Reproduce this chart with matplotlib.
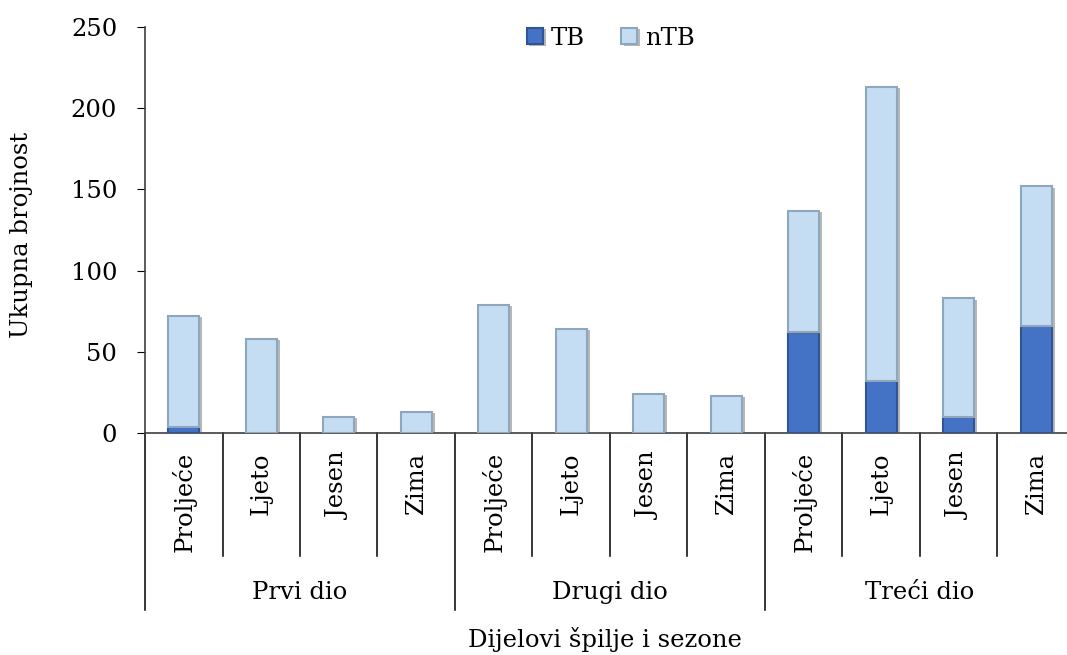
import matplotlib
matplotlib.use('Agg')
import matplotlib.pyplot as plt
import matplotlib.patheffects as pe
import numpy as np

# Données
groups = ['Prvi dio', 'Drugi dio', 'Treći dio']
seasons = ['Proljeće', 'Ljeto', 'Jesen', 'Zima']
tb = [4, 0, 0, 0, 0, 0, 0, 0, 62, 32, 10, 66]
total = [72, 58, 10, 13, 79, 64, 24, 23, 137, 213, 83, 152]
ntb = [t - b for t, b in zip(total, tb)]
yticks = [0, 50, 100, 150, 200, 250]

plt.rcParams['font.family'] = ['DejaVu Serif']
FS = 17.5

fig = plt.figure(figsize=(10.67, 6.55), dpi=100)
W, H = 1067, 655
ax = fig.add_axes([145 / W, 1 - 433 / H, 930 / W, 406 / H])

x = np.arange(len(total))
shadow = [pe.SimplePatchShadow(offset=(2, -1), shadow_rgbFace='#606060', alpha=0.45), pe.Normal()]
b1 = ax.bar(x, tb, width=0.4, color='#4472C4', edgecolor='#2F5597', linewidth=1.5,
            label='TB', zorder=3)
b2 = ax.bar(x, ntb, width=0.4, bottom=tb, color='#C5DDF3', edgecolor='#8FA7BE', linewidth=1.5,
            label='nTB', zorder=3)
for p in list(b1) + list(b2):
    if p.get_height() > 0:
        p.set_path_effects(shadow)

ax.set_xlim(-0.5, len(total) - 0.5)
ax.set_ylim(0, 250)
ax.set_yticks(yticks)
ax.tick_params(axis='y', labelsize=FS, length=6, direction='out', pad=14)
ax.tick_params(axis='x', bottom=False, labelbottom=False)
for s in ['top', 'right']:
    ax.spines[s].set_visible(False)
for s in ['left', 'bottom']:
    ax.spines[s].set_color('#404040')
    ax.spines[s].set_linewidth(1.2)

# Axe des catégories à deux niveaux
tr = ax.get_xaxis_transform()
for i in range(len(total)):
    ax.text(i, -0.047, seasons[i % 4], transform=tr, rotation=90,
            ha='center', va='top', fontsize=FS)
for i in range(1, len(total)):
    depth = -0.436 if i % 4 == 0 else -0.303
    ax.plot([i - 0.5, i - 0.5], [0, depth], transform=tr, color='black',
            lw=1.1, clip_on=False)
ax.plot([-0.5, -0.5], [0, -0.436], transform=tr, color='black', lw=1.1, clip_on=False)
for g, name in enumerate(groups):
    ax.text(g * 4 + 1.5, -0.394, name, transform=tr, ha='center', va='center',
            fontsize=FS)

fig.text(605 / W, 1 - 640 / H, 'Dijelovi špilje i sezone', ha='center', va='center',
         fontsize=FS)
fig.text(22 / W, 1 - 235 / H, 'Ukupna brojnost', rotation=90, ha='center', va='center',
         fontsize=FS)

ax.legend(loc='upper center', bbox_to_anchor=(0.501, 1.055), ncol=2, frameon=False,
          fontsize=FS, handlelength=0.66, handleheight=0.66, handletextpad=0.33,
          columnspacing=1.5)

fig.savefig('out.png', dpi=100)
